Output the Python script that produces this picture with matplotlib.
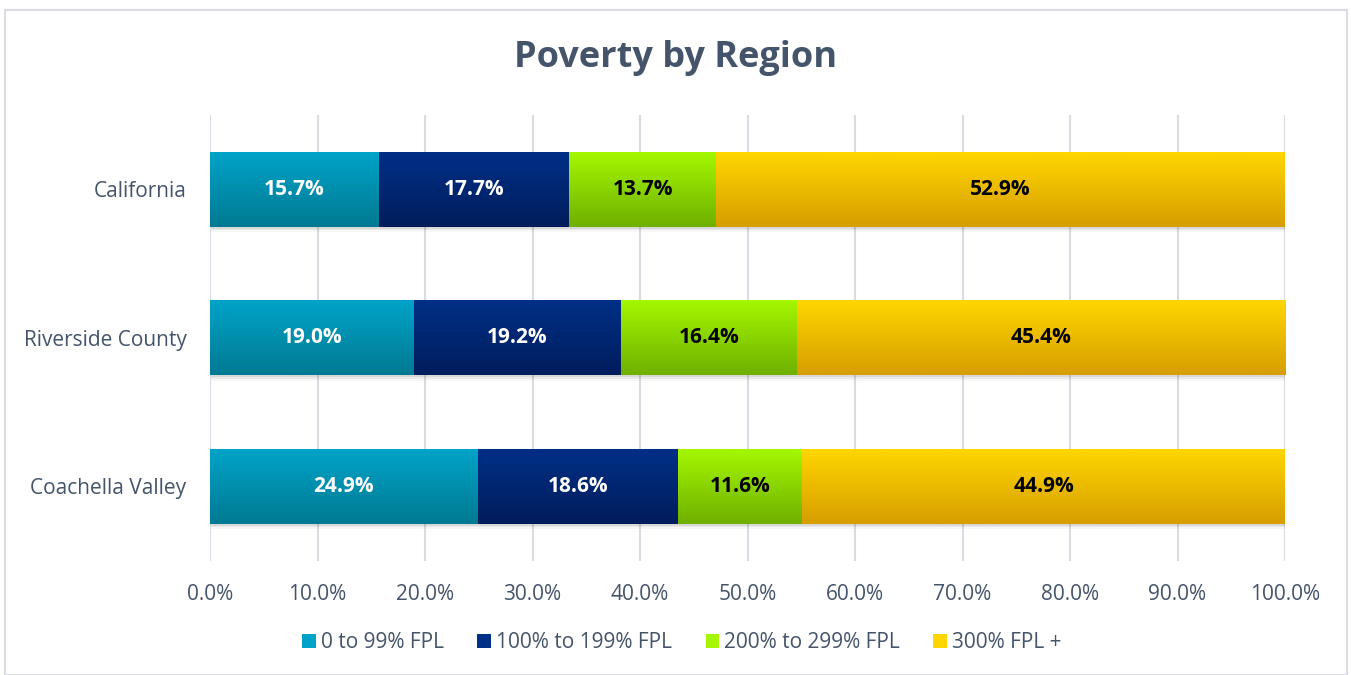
import numpy as np
import matplotlib
matplotlib.use("Agg")
import matplotlib.pyplot as plt
from matplotlib.patches import Rectangle
from matplotlib.colors import to_rgb

regions = ["California", "Riverside County", "Coachella Valley"]
series = ["0 to 99% FPL", "100% to 199% FPL", "200% to 299% FPL", "300% FPL +"]
v_0_99 = [15.7, 19.0, 24.9]
v_100_199 = [17.7, 19.2, 18.6]
v_200_299 = [13.7, 16.4, 11.6]
v_300_plus = [52.9, 45.4, 44.9]
values = [v_0_99, v_100_199, v_200_299, v_300_plus]
xticks = [0, 10, 20, 30, 40, 50, 60, 70, 80, 90, 100]

top_cols = ["#00A3C8", "#002F86", "#A4F700", "#FFD600"]
bot_cols = ["#007A92", "#001D5C", "#6FB000", "#D69E00"]
label_cols = ["white", "white", "black", "black"]
text_col = "#44546A"

plt.rcParams['font.family'] = ['Open Sans', 'DejaVu Sans']

fig = plt.figure(figsize=(13.51, 6.75), dpi=100)
fig.patches.append(Rectangle((5/1351, 0), 1342/1351, 1 - 10/675, transform=fig.transFigure,
                             fill=False, edgecolor="#D9DCE3", linewidth=1.5))
ax = fig.add_axes([210/1351, 1 - 560.5/675, 1075/1351, 445.5/675])

h = 0.505
ypos = np.arange(len(regions))
left = np.zeros(len(regions))
for i, vals in enumerate(values):
    vals = np.array(vals)
    bars = ax.barh(ypos, vals, left=left, height=h, color="none", edgecolor="none", zorder=3)
    t = np.array(to_rgb(top_cols[i])); b = np.array(to_rgb(bot_cols[i]))
    grad = np.linspace(0, 1, 64)[:, None, None]
    img = (t * (1 - grad) + b * grad)
    for j, bar in enumerate(bars):
        x0 = bar.get_x(); w = bar.get_width(); yc = bar.get_y() + h / 2
        # soft shadow
        for k, a in enumerate([0.07, 0.05, 0.03]):
            ax.add_patch(Rectangle((x0 + 0.1, yc - h / 2 + 0.012 * (k + 1)), w, h,
                                   facecolor="#000000", alpha=a, edgecolor="none", zorder=2))
        ax.imshow(img, extent=(x0, x0 + w, yc + h / 2, yc - h / 2), origin="upper",
                  aspect="auto", interpolation="bilinear", zorder=3)
        ax.text(x0 + w / 2, yc, f"{vals[j]:.1f}%", ha="center", va="center",
                color=label_cols[i], fontsize=15, fontweight="bold", zorder=5)
    left = left + vals

ax.set_xlim(0, 100)
ax.set_ylim(2.5, -0.5)
ax.set_xticks(xticks)
ax.set_xticklabels([f"{x:.1f}%" for x in xticks], fontsize=15, color=text_col)
ax.set_yticks(ypos)
ax.set_yticklabels(regions, fontsize=15, color=text_col)
ax.tick_params(axis="both", length=0)
ax.tick_params(axis="x", pad=17)
ax.tick_params(axis="y", pad=17)
ax.grid(axis="x", color="#D9DCE3", linewidth=1.5, zorder=0)
ax.set_axisbelow(True)
for s in ax.spines.values():
    s.set_visible(False)

fig.text(0.5, 1 - 58/675, "Poverty by Region", ha="center", va="center",
         fontsize=26, fontweight="bold", color=text_col)

handles = []
for i in range(4):
    handles.append(Rectangle((0, 0), 1, 1, facecolor=top_cols[i], edgecolor="none"))
fig.legend(handles, series, loc="center", bbox_to_anchor=(682/1351, 1 - 643/675), ncol=4,
           frameon=False, fontsize=15, labelcolor=text_col, handlelength=0.65, handleheight=0.65,
           handletextpad=0.25, columnspacing=1.6)

fig.savefig("out.png", dpi=100)
